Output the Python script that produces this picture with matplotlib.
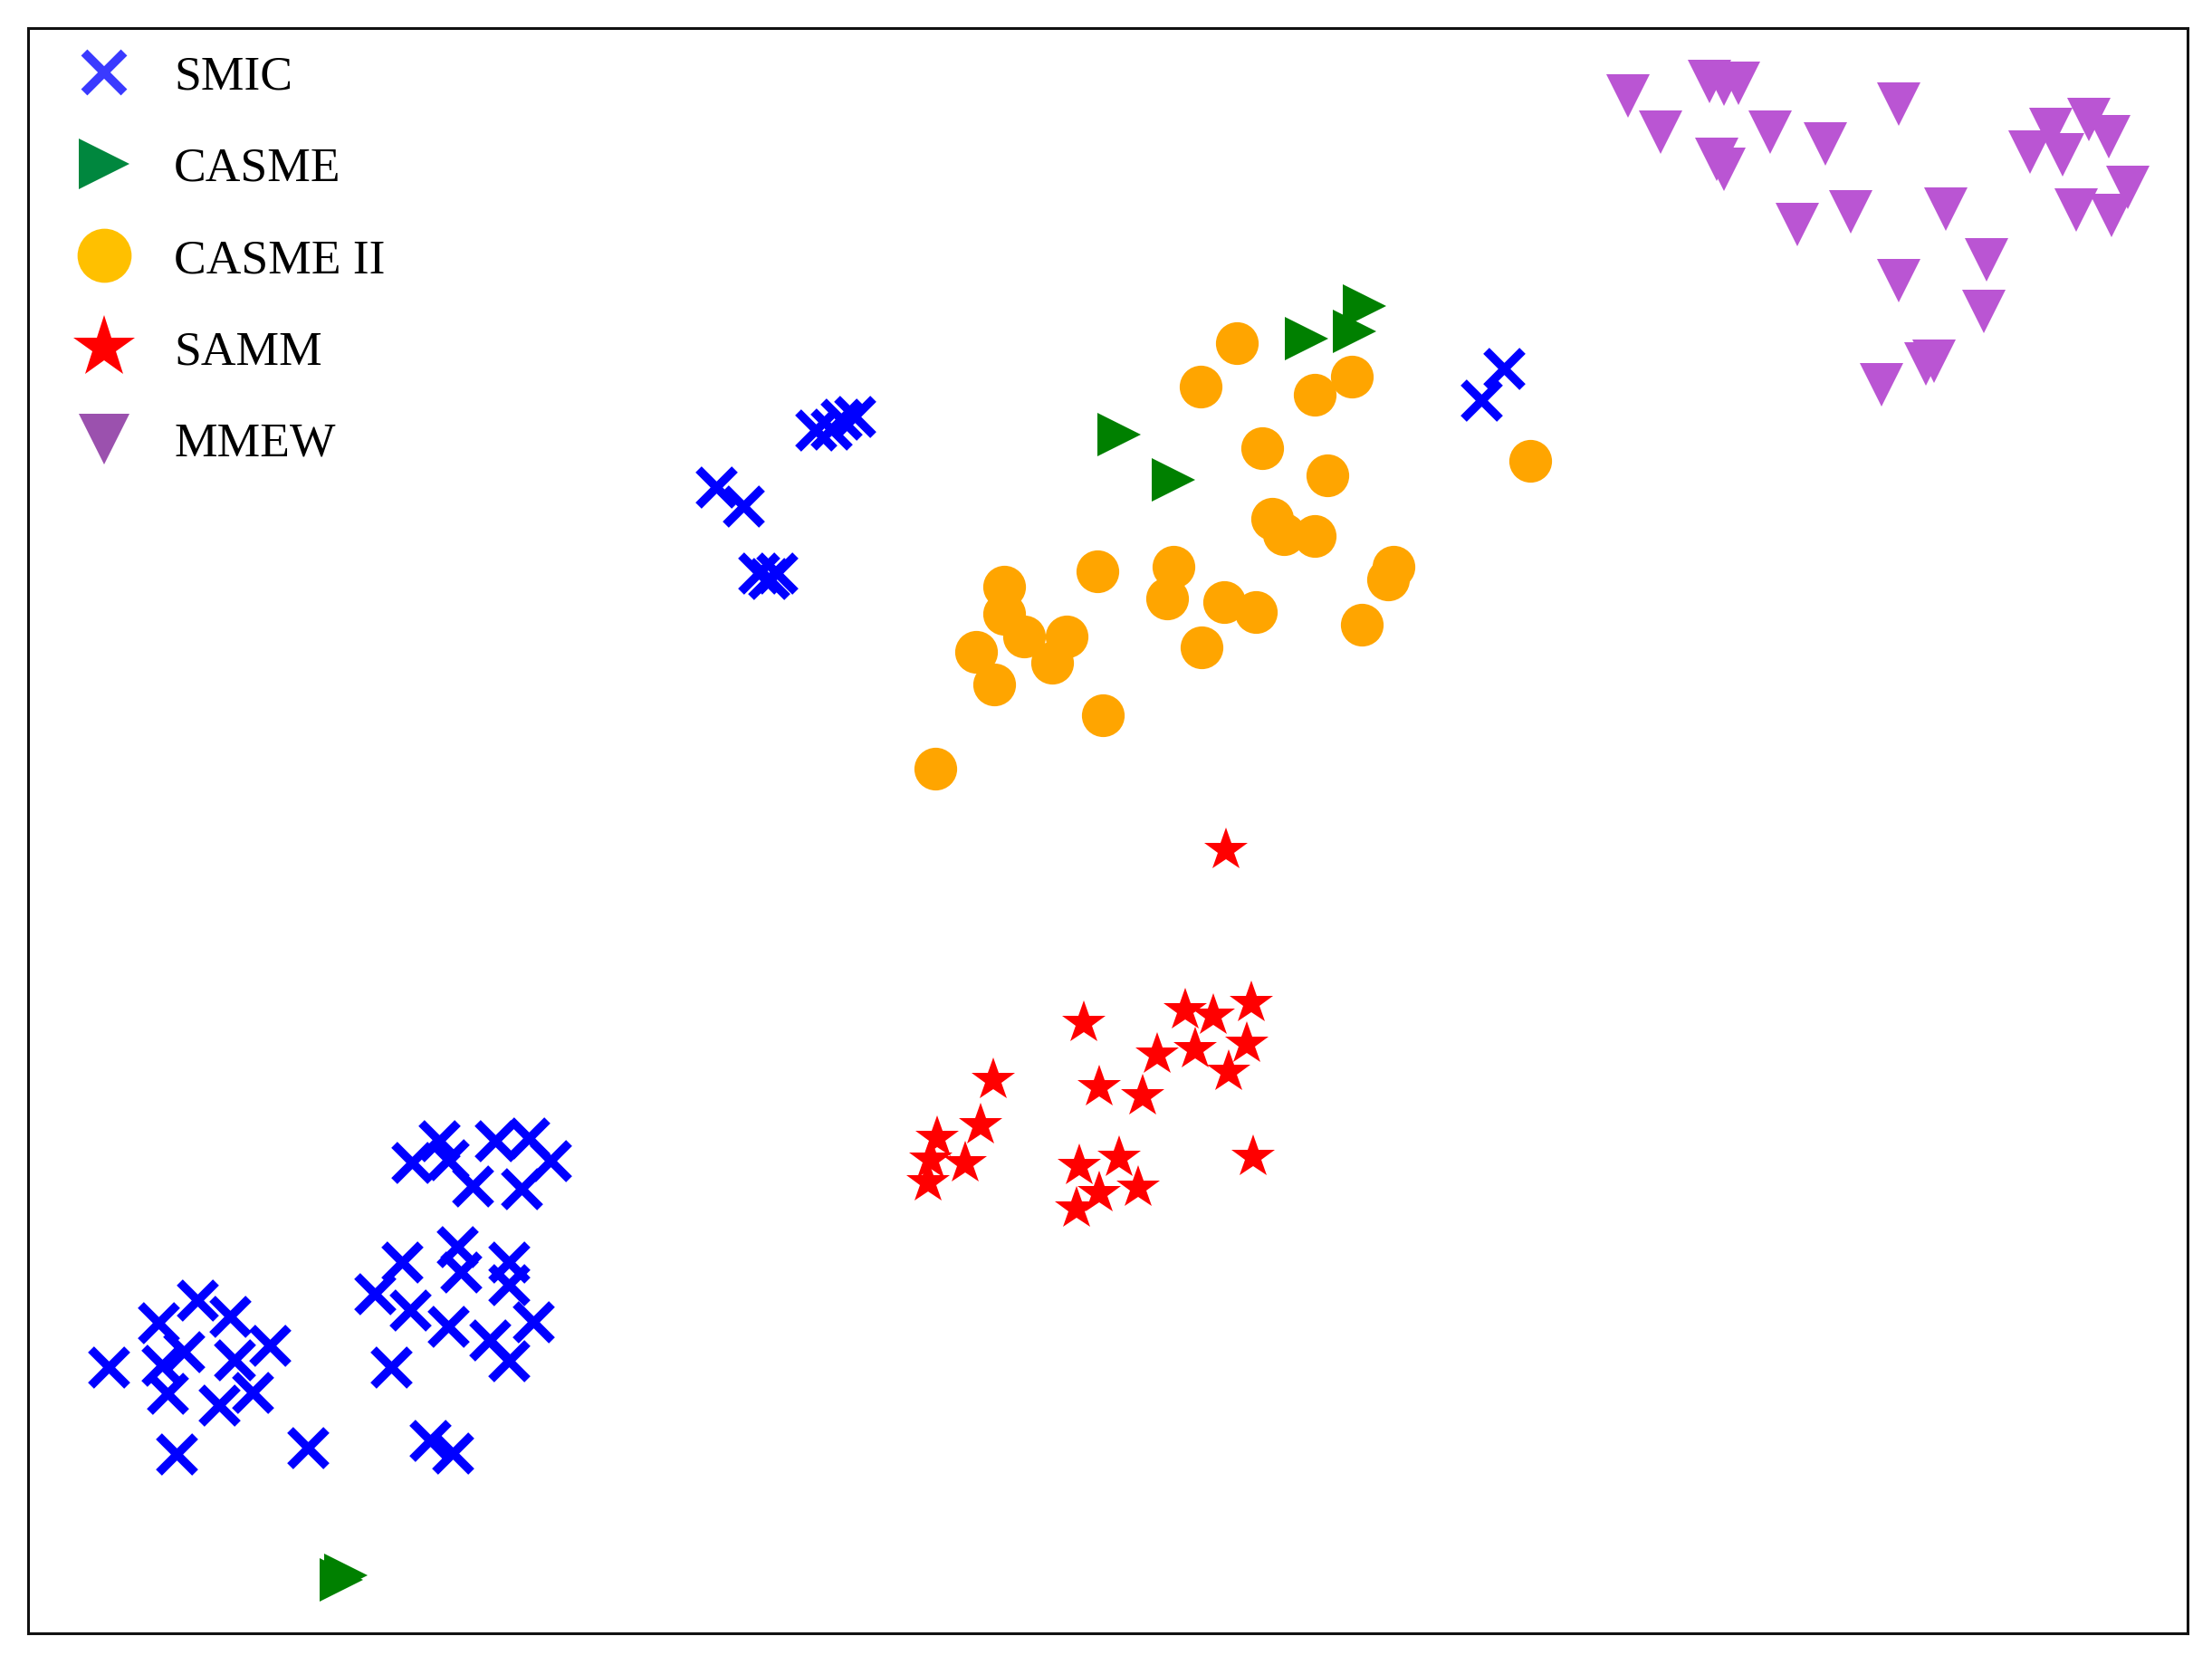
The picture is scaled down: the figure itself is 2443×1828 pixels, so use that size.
import matplotlib.pyplot as plt
from matplotlib.lines import Line2D

# embedding coordinates (x to the right, y downward)
smic_x = [508, 527, 538, 551, 545, 578, 589, 596, 606, 1050, 1066,
          77, 112, 140, 163, 191, 130, 115, 166, 119, 155, 179, 125, 218,
          292, 311, 318, 335, 351, 375, 390, 370, 285, 324, 327, 361, 361,
          266, 291, 318, 378, 347, 361, 277, 305, 321]
smic_y = [345, 359, 406, 406, 410, 305, 304, 297, 295, 284, 261,
          969, 938, 922, 933, 954, 958, 968, 964, 988, 996, 987, 1031, 1026,
          824, 809, 822, 841, 809, 807, 823, 843, 895, 884, 902, 895, 911,
          917, 929, 940, 937, 950, 965, 969, 1021, 1030]

casme_x = [793, 832, 926, 960, 967, 242, 245]
casme_y = [308, 340, 240, 235, 217, 1120, 1117]

casme2_x = [877, 851, 932, 958, 895, 941, 902, 910, 932, 988, 984, 965,
            778, 832, 827, 868, 890, 852, 712, 712, 726, 756, 746, 692,
            705, 782, 663, 1085]
casme2_y = [243, 274, 280, 267, 318, 337, 368, 379, 380, 402, 411, 443,
            405, 402, 424, 427, 434, 459, 416, 435, 451, 451, 470, 462,
            485, 507, 545, 327]

samm_x = [869, 768, 704, 695, 664, 660, 684, 658, 779, 810, 820, 840, 860,
          887, 847, 884, 871, 888, 765, 793, 807, 779, 763]
samm_y = [603, 725, 766, 798, 807, 822, 825, 838, 771, 777, 748, 716, 720,
          711, 744, 740, 760, 820, 827, 821, 842, 846, 857]

mmew_x = [1154, 1177, 1212, 1222, 1232, 1217, 1222, 1255, 1294, 1346,
          1274, 1312, 1379, 1346, 1408, 1406, 1371, 1365, 1334,
          1454, 1481, 1495, 1439, 1462, 1508, 1472, 1497]
mmew_y = [68, 94, 58, 60, 59, 113, 120, 94, 102, 74,
          159, 150, 148, 199, 184, 221, 256, 258, 273,
          92, 85, 97, 108, 110, 133, 149, 153]

labels = ['SMIC', 'CASME', 'CASME II', 'SAMM', 'MMEW']

fig = plt.figure(figsize=(24.43, 18.28), dpi=100)
ax = fig.add_axes([0.01257, 0.01313, 0.9764, 0.9699])

ax.plot(smic_x, smic_y, ls='none', marker='x', ms=29, mew=6.8, color='#0000ff')
ax.plot(casme_x, casme_y, ls='none', marker='>', ms=34, mew=0, color='#008000')
ax.plot(casme2_x, casme2_y, ls='none', marker='o', ms=34, mew=0, color='#ffa500')
ax.plot(samm_x, samm_y, ls='none', marker='*', ms=36, mew=0, color='#ff0000')
ax.plot(mmew_x, mmew_y, ls='none', marker='v', ms=34, mew=0, color='#ba55d3')

ax.set_xlim(19.7, 1550.7)
ax.set_ylim(1157.9, 19.9)
ax.set_xticks([])
ax.set_yticks([])
for s in ax.spines.values():
    s.set_linewidth(2.2)
    s.set_color('#111111')

# legend uses slightly different colours than the points
handles = [
    Line2D([], [], ls='none', marker='x', ms=31, mew=7, color='#3a3aff'),
    Line2D([], [], ls='none', marker='>', ms=40, mew=0, color='#00873e'),
    Line2D([], [], ls='none', marker='o', ms=43, mew=0, color='#ffc000'),
    Line2D([], [], ls='none', marker='*', ms=52, mew=0, color='#ff0000'),
    Line2D([], [], ls='none', marker='v', ms=40, mew=0, color='#9b51ae'),
]
ax.legend(handles, labels, loc='upper left', bbox_to_anchor=(75 / 2443, 1 - 61 / 1828),
          bbox_transform=fig.transFigure, frameon=False, borderpad=0, borderaxespad=0,
          handlelength=1.5, handletextpad=0.69, labelspacing=0.99, numpoints=1,
          prop={'family': 'Liberation Serif', 'size': 38.5})

fig.savefig('out.png', dpi=100)
